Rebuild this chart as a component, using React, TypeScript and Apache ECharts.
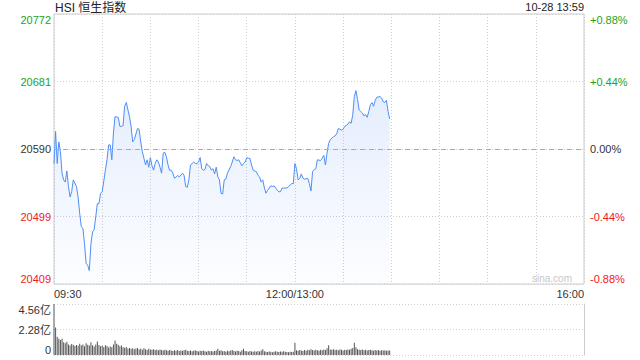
import React, { useEffect, useRef } from "react";
import * as echarts from "echarts";

const FONT = 'Arial, "Liberation Sans", "Noto Sans CJK SC", sans-serif';

// Index price axis (bottom to top) and percentage labels
const priceTickLabels = ["20409", "20499", "20590", "20681", "20772"];
const pctTickLabels = ["-0.88%", "-0.44%", "0.00%", "+0.44%", "+0.88%"];
const priceMin = 20409;
const priceMax = 20772;
const prevClose = (priceMin + priceMax) / 2;

// Time axis tick labels
const xTickLabels = ["09:30", "12:00/13:00", "16:00"];

// Volume axis labels (bottom to top)
const volTickLabels = ["0", "2.28亿", "4.56亿"];
const volMax = 4.56;

// Intraday index (time, value)
const lineTimes = [
  "09:30","09:31","09:32","09:33","09:34","09:35","09:36","09:37","09:38","09:39",
  "09:40","09:41","09:42","09:44","09:45","09:46","09:47","09:48","09:49","09:50",
  "09:51","09:52","09:53","09:54","09:55","09:57","09:58","09:59","10:00","10:02",
  "10:03","10:04","10:05","10:06","10:07","10:08","10:10","10:11","10:12","10:13",
  "10:14","10:15","10:17","10:18","10:19","10:20","10:22","10:23","10:24","10:25",
  "10:26","10:27","10:28","10:29","10:30","10:31","10:32","10:33","10:34","10:35",
  "10:36","10:37","10:38","10:39","10:40","10:41","10:42","10:43","10:44","10:45",
  "10:46","10:47","10:48","10:50","10:51","10:52","10:53","10:54","10:55","10:56",
  "10:57","10:58","10:59","11:00","11:01","11:02","11:03","11:04","11:05","11:06",
  "11:07","11:08","11:09","11:10","11:11","11:12","11:13","11:14","11:15","11:16",
  "11:17","11:18","11:20","11:21","11:22","11:23","11:24","11:25","11:26","11:27",
  "11:28","11:29","11:30","11:31","11:32","11:33","11:34","11:36","11:37","11:38",
  "11:39","11:40","11:41","11:42","11:43","11:45","11:46","11:47","11:49","11:50",
  "11:51","11:52","11:54","11:55","11:56","11:58","11:59","13:00","13:01","13:02",
  "13:03","13:04","13:05","13:06","13:08","13:09","13:10","13:11","13:12","13:13",
  "13:14","13:16","13:17","13:18","13:19","13:20","13:21","13:22","13:24","13:25",
  "13:26","13:27","13:29","13:30","13:31","13:32","13:33","13:34","13:35","13:36",
  "13:37","13:38","13:39","13:40","13:41","13:42","13:43","13:44","13:45","13:46",
  "13:47","13:48","13:49","13:50","13:51","13:53","13:54","13:55","13:56","13:57",
  "13:58","13:59",
];
const lineValues = [
  20571,20614,20571,20600,20587,20558,20549,20546,20561,20540,
  20526,20533,20549,20540,20526,20504,20486,20484,20463,20437,
  20434,20427,20463,20479,20482,20517,20517,20531,20533,20562,
  20576,20596,20596,20576,20612,20634,20633,20621,20621,20622,
  20648,20653,20634,20621,20600,20603,20618,20617,20600,20587,
  20578,20569,20576,20566,20579,20568,20562,20571,20576,20573,
  20566,20558,20585,20586,20580,20569,20562,20562,20558,20551,
  20553,20555,20553,20558,20555,20540,20539,20549,20569,20571,
  20573,20571,20571,20573,20579,20564,20562,20563,20571,20568,
  20567,20562,20564,20557,20566,20553,20549,20531,20530,20549,
  20550,20558,20567,20573,20580,20576,20575,20576,20572,20568,
  20571,20573,20579,20578,20578,20569,20562,20560,20555,20553,
  20546,20549,20538,20531,20535,20541,20540,20541,20535,20533,
  20533,20538,20538,20538,20540,20544,20544,20571,20564,20549,
  20551,20557,20551,20550,20551,20544,20534,20560,20563,20564,
  20576,20575,20578,20582,20569,20585,20598,20603,20607,20608,
  20611,20618,20616,20617,20621,20622,20624,20627,20625,20636,
  20661,20669,20657,20643,20641,20639,20635,20637,20633,20641,
  20650,20653,20648,20656,20660,20661,20659,20654,20653,20656,
  20641,20631,
];

// Per-minute volume (亿) starting 09:30
const volumes = [
  4.56,2.46,1.64,1.45,1.35,1.46,1.15,1.05,1.18,0.95,
  0.85,0.98,0.92,0.80,0.90,0.82,1.00,0.88,0.95,0.78,
  1.05,0.92,0.85,1.15,0.88,0.75,0.95,1.20,0.90,0.78,
  0.85,0.72,0.88,0.80,0.68,0.75,0.70,0.95,1.30,1.00,
  0.92,0.78,0.85,0.70,0.65,0.72,0.58,0.62,0.55,0.60,
  0.52,0.58,0.62,0.50,0.56,0.48,0.60,0.52,0.45,0.55,
  0.50,0.46,0.52,0.44,0.48,0.42,0.50,0.45,0.40,0.47,
  0.43,0.38,0.45,0.40,0.36,0.42,0.38,0.44,0.35,0.40,
  0.37,0.43,0.47,0.38,0.35,0.40,0.33,0.38,0.42,0.36,
  0.32,0.38,0.35,0.40,0.34,0.30,0.37,0.33,0.36,0.31,
  0.35,0.40,0.55,0.38,0.42,0.33,0.36,0.30,0.38,0.34,
  0.40,0.45,0.36,0.32,0.38,0.35,0.30,0.42,0.55,0.36,
  0.33,0.30,0.36,0.32,0.28,0.34,0.30,0.36,0.32,0.40,
  0.52,0.34,0.30,0.27,0.32,0.29,0.25,0.30,0.34,0.28,
  0.26,0.31,0.28,0.33,0.30,0.27,0.24,0.29,0.26,0.30,
  1.10,0.42,0.38,0.45,0.40,0.36,0.44,0.39,0.47,0.42,
  0.52,0.45,0.40,0.48,0.43,0.38,0.46,0.42,0.50,0.44,
  0.60,0.88,0.50,0.46,0.52,0.45,0.48,0.42,0.50,0.46,
  0.40,0.48,0.44,0.50,0.47,0.55,0.62,1.10,0.70,0.52,
  0.48,0.45,0.50,0.42,0.46,0.40,0.44,0.48,0.42,0.38,
  0.45,0.41,0.44,0.39,0.43,0.40,0.42,0.38,0.41,0.40,
];

const GREEN = "#1ba31b";
const RED = "#f02020";

// trading-minute slot: 09:30 -> 0, 12:00/13:00 -> 150, 16:00 -> 330
function timeToSlot(t: string): number {
  const [h, m] = t.split("/")[0].split(":").map(Number);
  const mins = h * 60 + m;
  return mins <= 720 ? mins - 570 : mins - 780 + 150;
}

export default function App() {
  const ref = useRef<HTMLDivElement>(null);

  useEffect(() => {
    if (!ref.current) return;
    const chart = echarts.init(ref.current, null, { renderer: "svg" });
    const half = (priceMax - priceMin) / 2;
    const step = half / 2;
    const priceIdx = (v: number) => Math.round((Number(v) + half) / step);
    const volStep = volMax / 2;
    const volIdx = (v: number) => Math.round(Number(v) / volStep);
    const xMap: Record<number, string> = {};
    xTickLabels.forEach((t) => (xMap[timeToSlot(t)] = t));
    const dotted = { color: "#cfcfcf", type: [1, 2], width: 1 };
    const labelColor = (v: any) => {
      const n = Number(v);
      if (Math.abs(n) < 1e-6) return "#333333";
      return n > 0 ? GREEN : RED;
    };

    chart.setOption({
      animation: false,
      textStyle: { fontFamily: FONT },
      grid: [
        { left: 54, top: 14, width: 530, height: 270, show: true, borderColor: "#cccccc", borderWidth: 1, backgroundColor: "transparent" },
        { left: 54, top: 304, width: 530, height: 51 },
      ],
      xAxis: [
        {
          type: "value", gridIndex: 0, min: 0, max: 330, interval: 30,
          axisLine: { show: false }, axisTick: { show: false },
          splitLine: { show: true, lineStyle: dotted },
          axisLabel: {
            show: true, margin: 4, fontSize: 11, color: "#333333", fontFamily: FONT,
            showMinLabel: true, showMaxLabel: true,
            alignMinLabel: "left", alignMaxLabel: "right",
            formatter: (v: number) => xMap[Math.round(v)] || "",
          },
        },
        { type: "value", gridIndex: 1, min: 0, max: 330, interval: 30, show: false },
      ],
      yAxis: [
        {
          type: "value", gridIndex: 0, position: "left", min: -half, max: half, interval: step,
          axisLine: { show: false }, axisTick: { show: false },
          splitLine: { show: true, lineStyle: dotted },
          axisLabel: {
            margin: 3, fontSize: 11, fontFamily: FONT,
            verticalAlignMinLabel: "bottom", verticalAlignMaxLabel: "top",
            formatter: (v: number) => priceTickLabels[priceIdx(v)] ?? "",
            color: labelColor,
          },
        },
        {
          type: "value", gridIndex: 0, position: "right", min: -half, max: half, interval: step,
          axisLine: { show: false }, axisTick: { show: false }, splitLine: { show: false },
          axisLabel: {
            margin: 6, fontSize: 11, fontFamily: FONT,
            verticalAlignMinLabel: "bottom", verticalAlignMaxLabel: "top",
            formatter: (v: number) => pctTickLabels[priceIdx(v)] ?? "",
            color: labelColor,
          },
        },
        {
          type: "value", gridIndex: 1, position: "left", min: 0, max: volMax, interval: volStep,
          axisLine: { show: false }, axisTick: { show: false },
          splitLine: { show: true, lineStyle: dotted },
          axisLabel: {
            margin: 3, fontSize: 11, fontFamily: FONT, color: "#333333",
            verticalAlignMinLabel: "bottom", verticalAlignMaxLabel: "top",
            formatter: (v: number) => volTickLabels[volIdx(v)] ?? "",
          },
        },
        {
          type: "value", gridIndex: 1, position: "right", min: 0, max: volMax, interval: volStep,
          axisLine: { show: true, lineStyle: { color: "#cccccc", width: 1 } },
          axisTick: { show: false }, axisLabel: { show: false }, splitLine: { show: false },
        },
      ],
      series: [
        {
          type: "line", xAxisIndex: 0, yAxisIndex: 0,
          data: lineTimes.map((t, i) => [timeToSlot(t), lineValues[i] - prevClose]),
          showSymbol: false, symbol: "none",
          lineStyle: { color: "#4f8ef5", width: 1 },
          areaStyle: {
            origin: "start",
            color: new echarts.graphic.LinearGradient(0, 0, 0, 1, [
              { offset: 0, color: "rgba(70,130,240,0.20)" },
              { offset: 1, color: "rgba(70,130,240,0.02)" },
            ]),
          },
          markLine: {
            silent: true, symbol: "none", label: { show: false },
            lineStyle: { color: "#aaaaaa", type: [5, 4], width: 1 },
            data: [{ yAxis: 0 }],
          },
        },
        {
          type: "bar", xAxisIndex: 1, yAxisIndex: 2,
          data: volumes.map((v, i) => [i, v]),
          barWidth: 1,
          itemStyle: { color: "#555555" },
        },
      ],
      graphic: [
        { type: "text", x: 55, y: 8, style: { text: "HSI 恒生指数", font: `12px ${FONT}`, fill: "#222222", verticalAlign: "middle" } },
        { type: "text", x: 584, y: 7, style: { text: "10-28 13:59", font: `11px ${FONT}`, fill: "#222222", align: "right", verticalAlign: "middle" } },
        { type: "text", x: 572, y: 278, style: { text: "sina.com", font: `10px ${FONT}`, fill: "#c8c8c8", align: "right", verticalAlign: "middle" } },
      ],
    });
    return () => chart.dispose();
  }, []);

  return <div ref={ref} style={{ position: "absolute", left: 0, top: 0, width: 640, height: 360 }} />;
}
